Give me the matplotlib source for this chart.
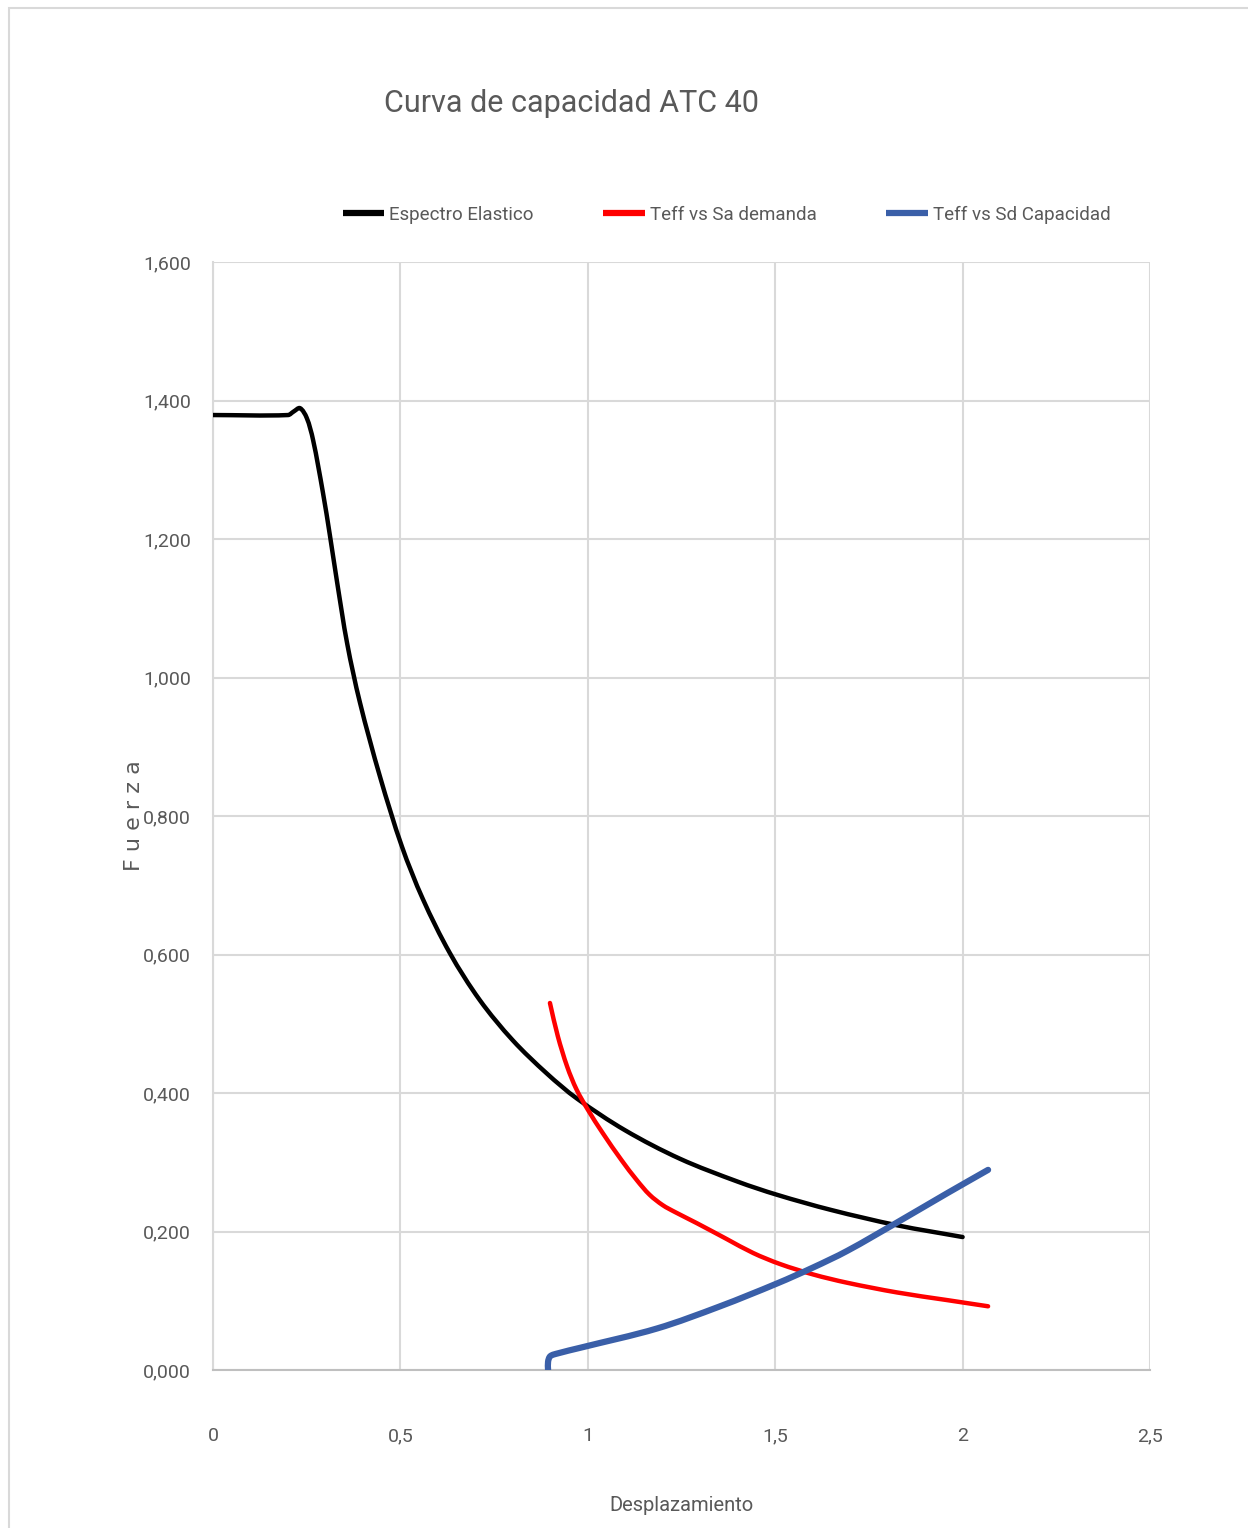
import matplotlib
matplotlib.use("Agg")
import matplotlib.pyplot as plt
import numpy as np
from matplotlib.patches import Rectangle, PathPatch
from matplotlib.path import Path
from matplotlib.lines import Line2D

# ---- data ----
espectro_x = [0, 0.2, 0.215, 0.232, 0.25, 0.267, 0.293, 0.312, 0.331, 0.358,
              0.392, 0.446, 0.504, 0.56, 0.632, 0.712, 0.8, 0.891, 0.971, 1.1,
              1.246, 1.4, 1.505, 1.65, 1.825, 2.0]
espectro_y = [1.379, 1.379, 1.384, 1.389, 1.375, 1.343, 1.268, 1.205, 1.138,
              1.049, 0.964, 0.856, 0.756, 0.680, 0.602, 0.534, 0.476, 0.428,
              0.392, 0.346, 0.305, 0.272, 0.253, 0.231, 0.209, 0.192]

demanda_x = [0.899, 0.92, 0.945, 0.97, 1.0, 1.04, 1.09, 1.131, 1.165, 1.2,
             1.233, 1.291, 1.371, 1.441, 1.513, 1.601, 1.692, 1.825, 1.958, 2.068]
demanda_y = [0.530, 0.482, 0.438, 0.405, 0.376, 0.342, 0.303, 0.274, 0.253,
             0.238, 0.228, 0.212, 0.189, 0.169, 0.153, 0.138, 0.126, 0.112,
             0.101, 0.092]

capacidad_x = [0.894, 0.894, 0.90, 0.92, 0.979, 1.185, 1.353, 1.505, 1.601,
               1.692, 1.825, 1.958, 2.068]
capacidad_y = [0.0, 0.012, 0.020, 0.024, 0.032, 0.060, 0.092, 0.125, 0.148,
               0.172, 0.213, 0.255, 0.289]

x_ticks = [0, 0.5, 1, 1.5, 2, 2.5]
x_tick_labels = ["0", "0,5", "1", "1,5", "2", "2,5"]
y_ticks = [0, 0.2, 0.4, 0.6, 0.8, 1.0, 1.2, 1.4, 1.6]
y_tick_labels = ["0,000", "0,200", "0,400", "0,600", "0,800", "1,000",
                 "1,200", "1,400", "1,600"]

titulo = "Curva de capacidad ATC 40"
series_names = ["Espectro Elastico", "Teff vs Sa demanda", "Teff vs Sd Capacidad"]
series_colors = ["black", "#ff0000", "#3a5fa8"]

plt.rcParams['font.family'] = ["Roboto", "DejaVu Sans"]
txt_color = "#595959"

W, H = 1248, 1528
fig = plt.figure(figsize=(W / 100, H / 100), dpi=100)

# outer chart border
fig.patches.append(Rectangle((9 / W, -0.1), 1.2, 1 - 8 / H + 0.1,
                             transform=fig.transFigure, fill=False,
                             edgecolor="#d9d9d9", linewidth=1.5))

ax = fig.add_axes([213 / W, (H - 1370) / H, (1150 - 213) / W, (1370 - 262) / H])
ax.set_xlim(0, 2.5)
ax.set_ylim(0, 1.6)


def smooth_patch(xs, ys, color, lw):
    """Smoothed line (Hermite/Bezier segments through the given points)."""
    p = np.column_stack([xs, ys]).astype(float)
    scale = np.array([374.8, 692.5])
    d = np.sqrt((((p[1:] - p[:-1]) * scale) ** 2).sum(axis=1))
    d[d == 0] = 1e-6
    t = np.concatenate([[0], np.cumsum(d)])
    n = len(p)
    m = np.zeros_like(p)
    for i in range(n):
        a = max(i - 1, 0)
        b = min(i + 1, n - 1)
        m[i] = (p[b] - p[a]) / (t[b] - t[a])
    verts = [p[0]]
    codes = [Path.MOVETO]
    for i in range(n - 1):
        h = t[i + 1] - t[i]
        verts += [p[i] + m[i] * h / 3.0, p[i + 1] - m[i + 1] * h / 3.0, p[i + 1]]
        codes += [Path.CURVE4] * 3
    ax.add_patch(PathPatch(Path(verts, codes), fill=False, edgecolor=color,
                           linewidth=lw, capstyle="round", joinstyle="round",
                           zorder=3))


smooth_patch(espectro_x, espectro_y, series_colors[0], 3.2)
smooth_patch(demanda_x, demanda_y, series_colors[1], 3.2)
smooth_patch(capacidad_x, capacidad_y, series_colors[2], 4.5)

ax.set_xticks(x_ticks)
ax.set_xticklabels(x_tick_labels)
ax.set_yticks(y_ticks)
ax.set_yticklabels(y_tick_labels)
ax.tick_params(axis="both", length=0, colors=txt_color, labelsize=14)
ax.tick_params(axis="x", pad=41)
ax.tick_params(axis="y", pad=16)

ax.grid(True, color="#d9d9d9", linewidth=1.5, zorder=0)
ax.set_axisbelow(True)
for s in ["top", "right"]:
    ax.spines[s].set_visible(False)
ax.spines["left"].set_color("#d9d9d9")
ax.spines["left"].set_linewidth(1.5)
ax.spines["bottom"].set_color("#bfbfbf")
ax.spines["bottom"].set_linewidth(1.5)

ax.set_xlabel("Desplazamiento", fontsize=14.5, color=txt_color)
ax.xaxis.set_label_coords(0.5, -(1496 - 1370) / (1370 - 262))
ax.set_ylabel("F u e r z a", fontsize=16, color=txt_color, family="DejaVu Sans")
ax.yaxis.set_label_coords(-(213 - 144) / (1150 - 213), 0.5)

fig.text(572 / W, 1 - 103 / H, titulo, ha="center", va="center",
         fontsize=22, color=txt_color)

handles = [Line2D([], [], color=c, linewidth=4.5, solid_capstyle="butt")
           for c in series_colors]
leg = fig.legend(handles, series_names, loc="center left",
                 bbox_to_anchor=(335 / W, 1 - 215 / H), ncol=3,
                 frameon=False, fontsize=13.5, handlelength=2.2, handletextpad=0.3,
                 columnspacing=3.7, labelcolor=txt_color, borderaxespad=0)

fig.savefig("out.png", dpi=100, facecolor="white")
